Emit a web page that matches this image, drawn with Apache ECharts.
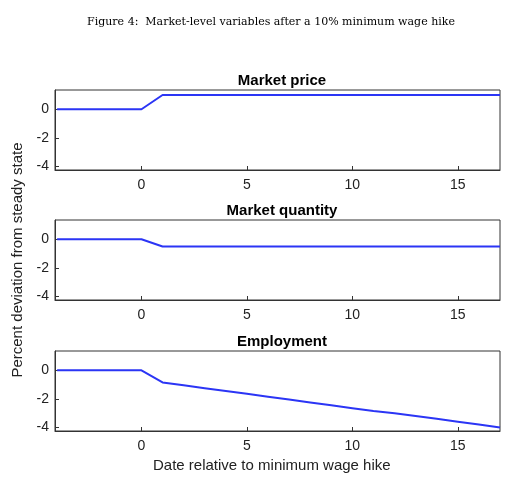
<!DOCTYPE html><html><head><meta charset="utf-8"><script src="https://cdn.jsdelivr.net/npm/echarts@6/dist/echarts.min.js"></script>
<style>body{margin:0;background:#fff}#c{width:532px;height:488px}</style></head><body><div id="c"></div><script>
const dates=[-4,-3,-2,-1,0,1,2,3,4,5,6,7,8,9,10,11,12,13,14,15,16,17];
const price=[0,0,0,0,0,1,1,1,1,1,1,1,1,1,1,1,1,1,1,1,1,1];
const quantity=[0,0,0,0,0,-0.5,-0.5,-0.5,-0.5,-0.5,-0.5,-0.5,-0.5,-0.5,-0.5,-0.5,-0.5,-0.5,-0.5,-0.5,-0.5,-0.5];
const employment=[0,0,0,0,0,-0.85,-1.05,-1.25,-1.45,-1.65,-1.85,-2.05,-2.25,-2.45,-2.65,-2.85,-3.0,-3.2,-3.4,-3.6,-3.8,-4.0];
const titles=['Market price','Market quantity','Employment'];
const xTicks=[0,5,10,15], yTicks=[-4,-2,0];
const tops=[90,220,351];
const c=echarts.init(document.getElementById('c'));
const F='Liberation Sans';
const grids=[],xs=[],ys=[],ss=[],ts=[];
[price,quantity,employment].forEach((d,i)=>{
grids.push({left:55,width:445,top:tops[i],height:80,show:true,borderColor:'#333',borderWidth:1});
xs.push({type:'value',gridIndex:i,min:-4.1,max:17,axisLine:{show:true,onZero:false,lineStyle:{color:'#333'}},splitLine:{show:false},
axisTick:{inside:true,customValues:xTicks,length:4,lineStyle:{color:'#333'}},axisLabel:{customValues:xTicks,fontFamily:F,fontSize:14,color:'#222',margin:8}});
ys.push({type:'value',gridIndex:i,min:-4.25,max:1.35,position:'left',axisLine:{show:true,onZero:false,lineStyle:{color:'#333'}},splitLine:{show:false},
axisTick:{inside:true,customValues:yTicks,length:4,lineStyle:{color:'#333'}},axisLabel:{customValues:yTicks,fontFamily:F,fontSize:14,color:'#222',margin:6},
name:i===1?'Percent deviation from steady state':'',nameLocation:'middle',nameGap:30,nameTextStyle:{fontFamily:F,fontSize:15,color:'#222'}});
ss.push({type:'line',xAxisIndex:i,yAxisIndex:i,data:dates.map((x,j)=>[x,d[j]]),showSymbol:false,lineStyle:{color:'#2b35f5',width:2},animation:false});
ts.push({text:titles[i],left:277,textAlign:'center',top:tops[i]-22,textStyle:{fontFamily:F,fontSize:15,fontWeight:'bold',color:'#000'}});
});
ts.push({text:'Figure 4:  Market-level variables after a 10% minimum wage hike',left:266,textAlign:'center',top:12,textStyle:{fontFamily:'DejaVu Serif',fontSize:11,fontWeight:'normal',color:'#000'}});
c.setOption({title:ts,grid:grids,xAxis:xs,yAxis:ys,series:ss,
graphic:[{type:'text',left:153,top:458,style:{text:'Date relative to minimum wage hike',font:'15px Liberation Sans',fill:'#222'}}]});
</script></body></html>
